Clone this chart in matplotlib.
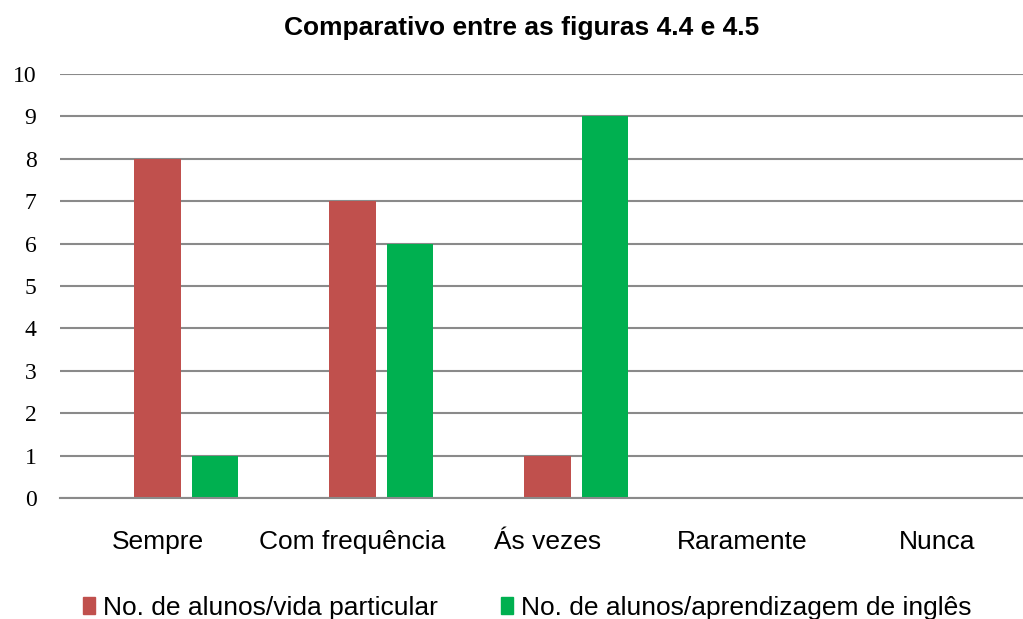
import numpy as np
from matplotlib import pyplot as plt
from matplotlib.patches import Patch

# Data
categories = ["Sempre", "Com frequência", "Ás vezes", "Raramente", "Nunca"]
vida_particular = [8, 7, 1, 0, 0]
aprendizagem = [1, 6, 9, 0, 0]
series_names = ["No. de alunos/vida particular", "No. de alunos/aprendizagem de inglês"]
colors = ["#C0504D", "#00B050"]

fig = plt.figure(figsize=(10.23, 6.19), dpi=100)
# plot area runs a bit past the right edge, as in the original
ax = fig.add_axes([60 / 1023, 121 / 619, 975 / 1023, 424 / 619])

x = np.arange(len(categories))
w = 0.236
ax.bar(x, vida_particular, width=w, color=colors[0], zorder=3)
ax.bar(x + 0.295, aprendizagem, width=w, color=colors[1], zorder=3)

ax.set_xlim(-0.5, len(categories) - 0.5)
ax.set_ylim(0, 10)
ax.set_yticks(range(0, 11))
ax.yaxis.grid(True, color="#8a8a8a", linewidth=1.5, zorder=0)
ax.set_axisbelow(True)
for s in ["top", "right", "left"]:
    ax.spines[s].set_visible(False)
ax.spines["bottom"].set_color("#8a8a8a")
ax.spines["bottom"].set_linewidth(1.5)
ax.spines["bottom"].set_zorder(4)

ax.set_xticks(x)
ax.set_xticklabels(categories, fontsize=19, family="Liberation Sans")
ax.tick_params(axis="x", length=0, pad=23)
ax.tick_params(axis="y", length=0, pad=17)
for lab in ax.get_yticklabels():
    lab.set_family("Liberation Serif")
    lab.set_fontsize(17)

fig.text(522 / 1023, 1 - 28 / 619, "Comparativo entre as figuras 4.4 e 4.5",
         ha="center", va="center", fontsize=19, fontweight="bold",
         family="Liberation Sans")

handles = [Patch(color=c) for c in colors]
fig.legend(handles, series_names, loc="center", bbox_to_anchor=(527 / 1023, 1 - 608 / 619),
           ncol=2, frameon=False, handlelength=0.45, handleheight=0.6,
           handletextpad=0.3, columnspacing=2.4,
           prop={"family": "Liberation Sans", "size": 19})

plt.savefig("out.png", dpi=100)
